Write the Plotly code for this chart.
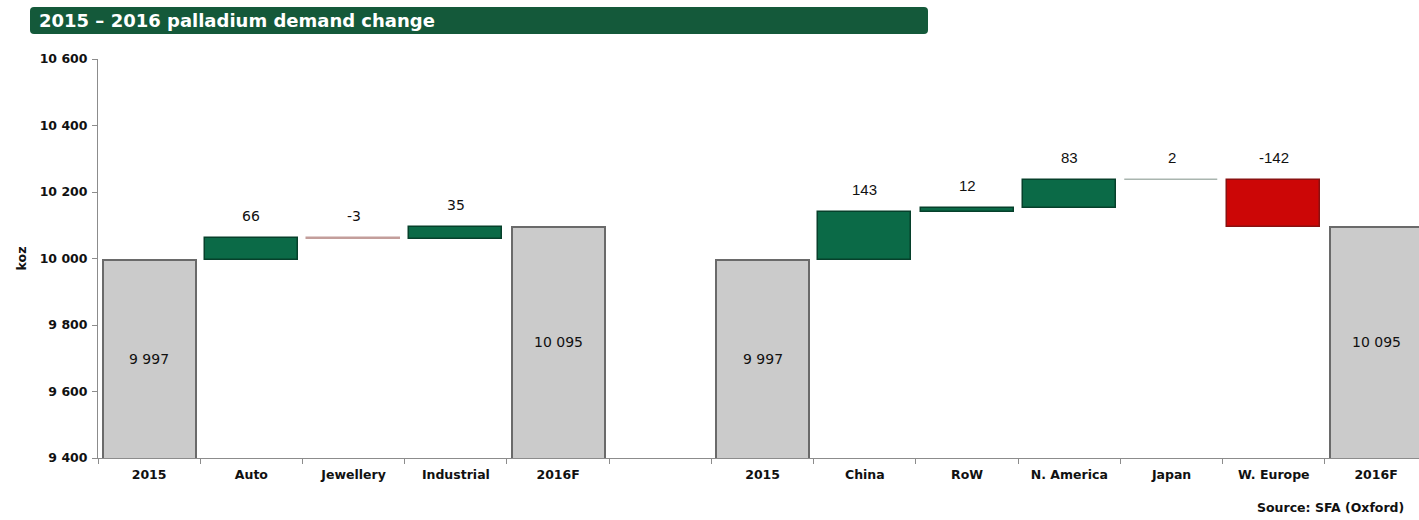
import plotly.graph_objects as go

# ---- data -------------------------------------------------------------
title_text = "2015 – 2016 palladium demand change"
source_text = "Source: SFA (Oxford)"
y_title = "koz"
start_label = "2015"
end_label = "2016F"
demand_2015 = 9997
segments = ["Auto", "Jewellery", "Industrial"]
segment_change = [66, -3, 35]
regions = ["China", "RoW", "N. America", "Japan", "W. Europe"]
region_change = [143, 12, 83, 2, -142]
y_ticks = [9400, 9600, 9800, 10000, 10200, 10400, 10600]

# ---- styles -----------------------------------------------------------
GREEN = "#0b6a47"
GREEN_EDGE = "#06402b"
PINK = "#c39e9b"
GREYGREEN = "#a9b5af"
RED = "#cc0606"
RED_EDGE = "#8a1010"
GREY = "#cbcbcb"
GREY_EDGE = "#6a6a6a"
segment_colors = [GREEN, PINK, GREEN]
segment_edges = [GREEN_EDGE, PINK, GREEN_EDGE]
region_colors = [GREEN, GREEN, GREEN, GREYGREEN, RED]
region_edges = [GREEN_EDGE, GREEN_EDGE, GREEN_EDGE, GREYGREEN, RED_EDGE]

LABEL_FONT = dict(family="DejaVu Sans", size=12.5, color="#111111", weight="bold")
VALUE_FONT = dict(family="DejaVu Sans", size=14, color="#111111", weight="normal")
NARROW_FONT = dict(family="Liberation Sans Narrow, Liberation Sans", size=15,
                   color="#111111", weight="normal")
Y_MIN, Y_MAX = y_ticks[0], y_ticks[-1]


def waterfall(start, changes, first_pos):
    """Return bar positions, bases and deltas for one bridge."""
    pos, base, delta = [], [], []
    level = start
    for i, ch in enumerate(changes):
        pos.append(first_pos + 1 + i)
        base.append(level)
        delta.append(ch)
        level += ch
    return pos, base, delta, level


# left bridge: by application, right bridge: by region (slot 5 left empty)
l_pos, l_base, l_delta, l_end = waterfall(demand_2015, segment_change, 0)
r_first = l_pos[-1] + 3
r_pos, r_base, r_delta, r_end = waterfall(demand_2015, region_change, r_first)

total_pos = [0, l_pos[-1] + 1, r_first, r_pos[-1] + 1]
total_val = [demand_2015, l_end, demand_2015, r_end]
step_pos = l_pos + r_pos
step_base = l_base + r_base
step_delta = l_delta + r_delta
step_colors = segment_colors + region_colors
step_edges = segment_edges + region_edges
step_fonts = [VALUE_FONT] * len(l_pos) + [NARROW_FONT] * len(r_pos)

tick_pos = total_pos[:2] + l_pos + total_pos[2:] + r_pos
tick_text = [start_label, end_label] + segments + [start_label, end_label] + regions

fig = go.Figure()
fig.add_trace(go.Bar(
    x=total_pos, y=total_val, base=0, width=0.91,
    marker=dict(color=GREY, line=dict(color=GREY_EDGE, width=2)),
    hoverinfo="skip",
))
fig.add_trace(go.Bar(
    x=step_pos, y=step_delta, base=step_base, width=0.91,
    marker=dict(color=step_colors, line=dict(color=step_edges, width=1.5)),
    hoverinfo="skip",
))

annotations = []
# totals: value printed in the middle of the visible column
for p, v in zip(total_pos, total_val):
    annotations.append(dict(
        x=p, y=(Y_MIN + v) / 2, xref="x", yref="y", showarrow=False,
        text=f"{v:,}".replace(",", " "), font=VALUE_FONT,
    ))
# changes: value printed above each floating bar
for p, b, d, f in zip(step_pos, step_base, step_delta, step_fonts):
    annotations.append(dict(
        x=p, y=max(b, b + d), xref="x", yref="y", showarrow=False,
        yanchor="bottom", yshift=12, text=str(d), font=f,
    ))

PLOT_W = 1419 - 98
PLOT_H = 458 - 59


def px_x(px):
    return (px - 98) / PLOT_W


def px_y(py):
    return (458 - py) / PLOT_H


# rounded title banner
bx0, bx1, by0, by1 = px_x(30), px_x(928), px_y(34), px_y(7)
rx, ry = 4 / PLOT_W, 4 / PLOT_H
banner = (f"M{bx0 + rx},{by0} L{bx1 - rx},{by0} Q{bx1},{by0} {bx1},{by0 + ry} "
          f"L{bx1},{by1 - ry} Q{bx1},{by1} {bx1 - rx},{by1} "
          f"L{bx0 + rx},{by1} Q{bx0},{by1} {bx0},{by1 - ry} "
          f"L{bx0},{by0 + ry} Q{bx0},{by0} {bx0 + rx},{by0} Z")
shapes = [dict(type="path", path=banner, xref="paper", yref="paper",
               fillcolor="#14593a", line=dict(width=0), layer="above")]
annotations.append(dict(
    x=px_x(37), y=(by0 + by1) / 2, xref="paper", yref="paper", showarrow=False,
    xanchor="left", yanchor="middle", text=title_text,
    font=dict(family="DejaVu Sans", size=18, color="white", weight="bold"),
))
annotations.append(dict(
    x=px_x(1406), y=px_y(508), xref="paper", yref="paper", showarrow=False,
    xanchor="right", yanchor="middle", text=source_text, font=LABEL_FONT,
))

fig.update_layout(
    width=1419, height=520,
    margin=dict(l=98, r=0, t=59, b=62),
    paper_bgcolor="white", plot_bgcolor="white",
    barmode="overlay", bargap=0, showlegend=False,
    separators=". ",
    shapes=shapes, annotations=annotations,
    font=LABEL_FONT,
)
fig.update_xaxes(
    range=[-0.5, 12.42], tickvals=tick_pos, ticktext=tick_text, ticks="",
    tickfont=LABEL_FONT, showgrid=False, zeroline=False, ticklabelstandoff=5,
    showline=True, linecolor="#8c8c8c", linewidth=1,
    minor=dict(tickvals=[i - 0.5 for i in range(14)], ticks="outside",
               ticklen=5, tickcolor="#8c8c8c", tickwidth=1, showgrid=False),
)
fig.update_yaxes(
    range=[Y_MIN, Y_MAX], tickvals=y_ticks, tickformat=",d",
    tickfont=LABEL_FONT, ticks="outside", ticklen=5, tickcolor="#8c8c8c",
    showgrid=False, zeroline=False, showline=True, linecolor="#8c8c8c", linewidth=1,
    ticklabelstandoff=2,
    title=dict(text=y_title, font=LABEL_FONT, standoff=10),
)

fig.write_html("out.html")
